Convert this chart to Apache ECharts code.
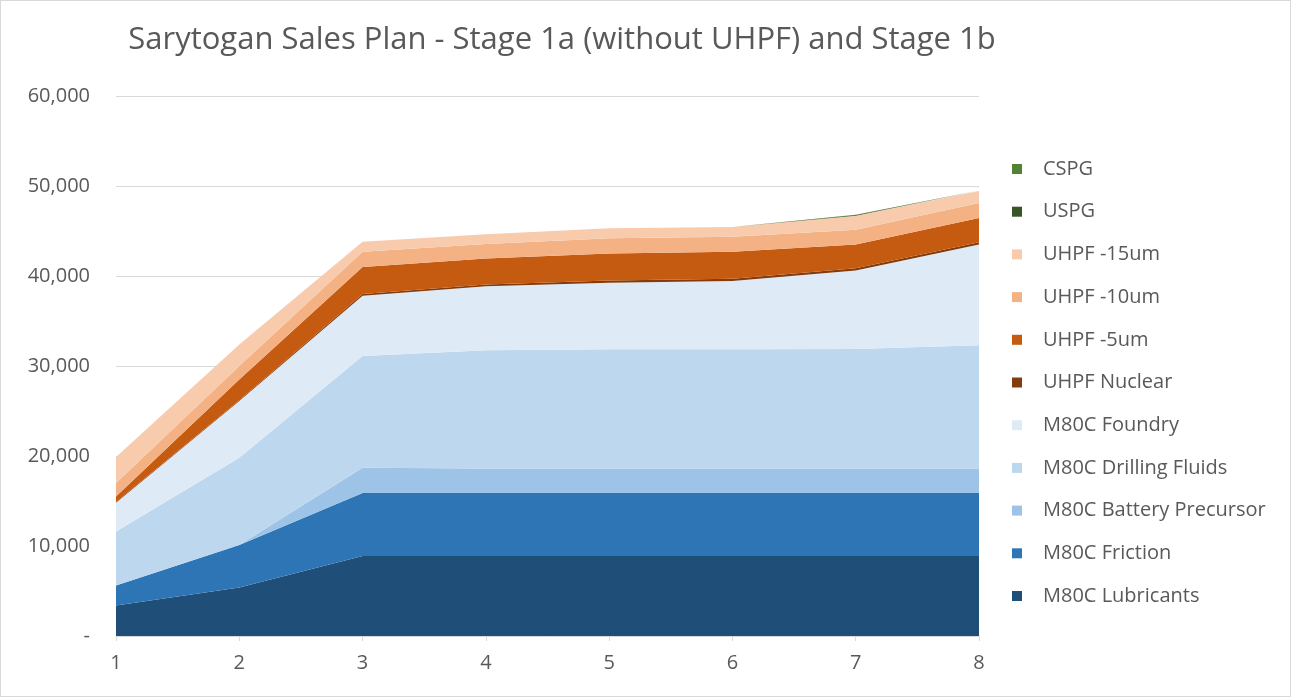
<!DOCTYPE html>
<html>
<head>
<meta charset="utf-8">
<script src="https://cdn.jsdelivr.net/npm/echarts@6/dist/echarts.min.js"></script>
<style>
html,body{margin:0;padding:0;background:#fff;}
#c{position:absolute;left:0;top:0;width:1289px;height:695px;border:1px solid #d9d9d9;}
</style>
</head>
<body>
<div id="c"></div>
<script>
const categories = ['1','2','3','4','5','6','7','8'];
const yTicks = [0,10000,20000,30000,40000,50000,60000];

const lubricants = [3400, 5400, 8900, 8900, 8900, 8900, 8900, 8900];
const friction   = [2200, 4700, 7000, 7000, 7000, 7000, 7000, 7000];
const battery    = [0, 0, 2800, 2700, 2700, 2700, 2700, 2700];
const drilling   = [6000, 9700, 12400, 13150, 13250, 13250, 13300, 13700];
const foundry    = [3200, 6300, 6700, 7100, 7400, 7600, 8700, 11200];
const nuclear    = [100, 100, 200, 200, 250, 250, 250, 250];
const uhpf5      = [600, 2300, 3000, 2900, 3000, 3000, 2650, 2700];
const uhpf10     = [1500, 1500, 1700, 1600, 1700, 1650, 1650, 1650];
const uhpf15     = [2900, 2400, 1100, 1100, 1100, 1100, 1550, 1350];
const uspg       = [0, 0, 0, 0, 0, 0, 80, 40];
const cspg       = [0, 0, 0, 0, 0, 0, 30, 20];

const seriesNames = ['M80C Lubricants','M80C Friction','M80C Battery Precursor','M80C Drilling Fluids','M80C Foundry','UHPF Nuclear','UHPF -5um','UHPF -10um','UHPF -15um','USPG','CSPG'];
const seriesData = [lubricants, friction, battery, drilling, foundry, nuclear, uhpf5, uhpf10, uhpf15, uspg, cspg];
const colors = ['#1f4e79','#2e75b6','#9dc3e6','#bdd7ee','#deebf7','#843c0c','#c55a11','#f4b183','#f8cbad','#375623','#548235'];

const FONT = 'Open Sans';
const chart = echarts.init(document.getElementById('c'));
chart.setOption({
  animation: false,
  color: colors,
  title: {
    text: 'Sarytogan Sales Plan - Stage 1a (without UHPF) and Stage 1b',
    left: 561, top: 24, textAlign: 'center', padding: 0,
    textStyle: {fontFamily: FONT, fontSize: 31, fontWeight: 'normal', color: '#595959'}
  },
  legend: {
    orient: 'vertical', left: 1011, top: 158, padding: 0,
    data: seriesNames.slice().reverse(),
    icon: 'rect', itemWidth: 10, itemHeight: 10, itemGap: 22.7,
    textStyle: {fontFamily: FONT, fontSize: 20, color: '#595959', lineHeight: 20, padding: [0,0,0,16]}
  },
  grid: {left: 115, right: 311, top: 95, bottom: 60},
  xAxis: {
    type: 'category', data: categories, boundaryGap: false,
    axisLine: {lineStyle: {color: '#d9d9d9', width: 1}},
    axisTick: {show: true, alignWithLabel: true, length: 5, lineStyle: {color: '#d9d9d9'}},
    axisLabel: {fontFamily: FONT, fontSize: 20, color: '#595959', margin: 17}
  },
  yAxis: {
    type: 'value', min: yTicks[0], max: yTicks[yTicks.length-1], interval: 10000,
    axisLine: {show: false}, axisTick: {show: false},
    splitLine: {lineStyle: {color: '#d9d9d9', width: 1}},
    axisLabel: {fontFamily: FONT, fontSize: 20, color: '#595959', margin: 26,
      formatter: v => v === 0 ? '-' : v.toLocaleString('en-US')}
  },
  series: seriesNames.map((n, i) => ({
    name: n, type: 'line', stack: 'total', data: seriesData[i],
    showSymbol: false, symbol: 'none',
    lineStyle: {width: 0},
    areaStyle: {color: colors[i], opacity: 1},
    itemStyle: {color: colors[i]}
  }))
});
</script>
</body>
</html>
